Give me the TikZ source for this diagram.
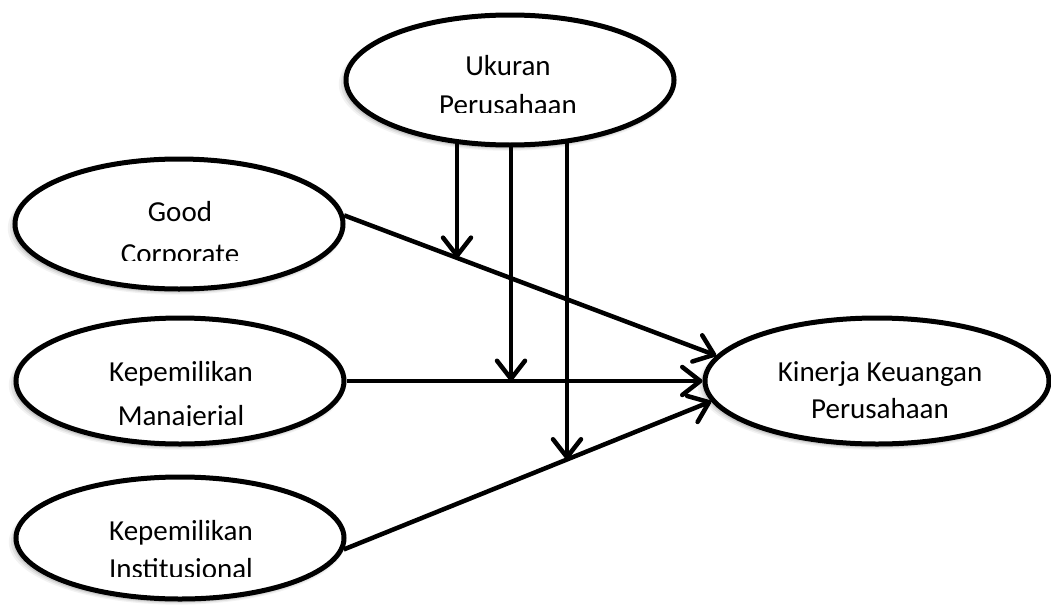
\documentclass[tikz,border=0pt]{standalone}
\usepackage{fontspec}
\setmainfont{Carlito}
\usetikzlibrary{arrows.meta,shapes.geometric,shadows,intersections}
\pgfdeclarelayer{bg}
\pgfsetlayers{bg,main}
\begin{document}
\begin{tikzpicture}[x=1pt,y=-1pt,
  ell/.style={ellipse, draw=black, line width=5pt, fill=white, inner sep=0pt,
    general shadow={shadow xshift=-3pt,shadow yshift=-4pt,shadow scale=1.025,fill=black,opacity=.05},
    general shadow={shadow xshift=-2.5pt,shadow yshift=-3.5pt,shadow scale=1.015,fill=black,opacity=.07},
    general shadow={shadow xshift=-2pt,shadow yshift=-3pt,shadow scale=1.005,fill=black,opacity=.1}},
  lbl/.style={font=\fontsize{29}{35}\selectfont, inner sep=0pt, anchor=base},
  arr/.style={line width=4.5pt, -{Straight Barb[length=18pt,width=28pt,round]}}]
\useasboundingbox (0,0) rectangle (1051,605);
% ellipses
\node[ell, minimum width=328pt, minimum height=130pt] (uk) at (510,80) {};
\node[ell, minimum width=328pt, minimum height=130pt] (gc) at (179,224) {};
\node[ell, minimum width=328pt, minimum height=126pt] (km) at (180,381) {};
\node[ell, minimum width=328pt, minimum height=122pt] (ki) at (180,538) {};
\node[ell, minimum width=344pt, minimum height=126pt] (kin) at (877,381) {};
% labels
\node[lbl] (uk1) at (508,75.5) {Ukuran};
\begin{scope}\clip (0,0) rectangle (1051,112.5);
\node[lbl] (uk2) at (508,114.5) {Perusahaan};
\end{scope}
\node[lbl] (gc1) at (180,221) {Good};
\begin{scope}\clip (0,0) rectangle (1051,260);
\node[lbl] (gc2) at (180,263) {Corporate};
\end{scope}
\node[lbl] (km1) at (181,381) {Kepemilikan};
\begin{scope}\clip (0,0) rectangle (1051,425.5);
\node[lbl] (km2) at (181,425) {Manajerial};
\end{scope}
\node[lbl] (ki1) at (181,540) {Kepemilikan};
\begin{scope}\clip (0,0) rectangle (1051,576.5);
\node[lbl] (ki2) at (181,578) {Institusional};
\end{scope}
\node[lbl] (kin1) at (880,381.5) {Kinerja Keuangan};
\node[lbl] (kin2) at (880,418) {Perusahaan};
% connectors
\draw[arr, name path=l1] (gc.3) -- (kin.171);
\draw[arr, name path=l2] (km.east) -- (kin.west);
\draw[arr, name path=l3] (ki.-4) -- (kin.187);
\path[name path=v1] (457,0) -- (457,605);
\path[name path=v2] (511,0) -- (511,605);
\path[name path=v3] (567,0) -- (567,605);
\path[name intersections={of=l1 and v1, by=m1}];
\path[name intersections={of=l2 and v2, by=m2}];
\path[name intersections={of=l3 and v3, by=m3}];
\begin{pgfonlayer}{bg}
\draw[arr] (m1 |- uk.center) -- (m1);
\draw[arr] (m2 |- uk.center) -- (m2);
\draw[arr] (m3 |- uk.center) -- (m3);
\end{pgfonlayer}
\end{tikzpicture}
\end{document}
